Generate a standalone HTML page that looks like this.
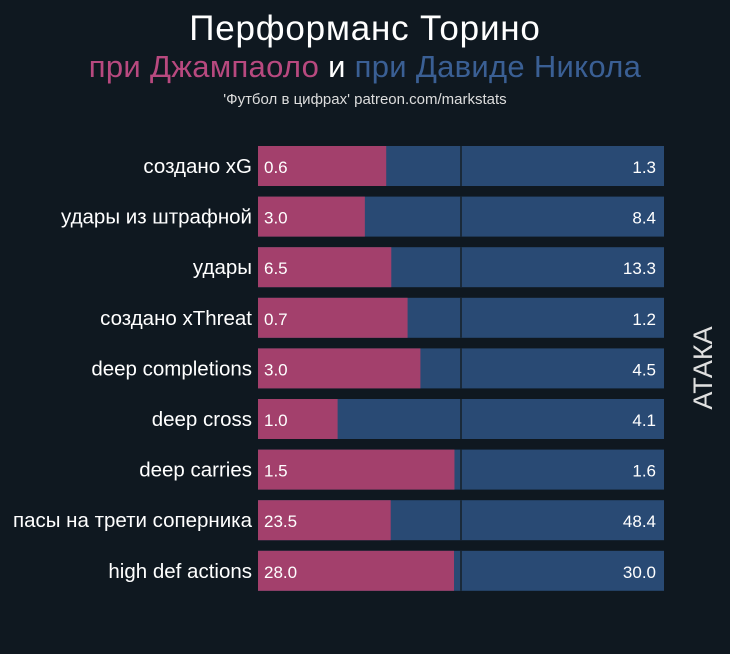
<!DOCTYPE html>
<html><head><meta charset="utf-8"><style>
body{margin:0;background:#0f1820;width:730px;height:649px;overflow:hidden;font-family:"Liberation Sans","DejaVu Sans",sans-serif}
</style></head><body>
<svg width="730" height="649">
<rect width="730" height="649" fill="#0f1820"/>
<text x="365" y="40" text-anchor="middle" font-size="35" letter-spacing="0.8" fill="#fff">Перформанс Торино</text>
<text x="365" y="77" text-anchor="middle" font-size="31" letter-spacing="0.3"><tspan fill="#b8497f">при Джампаоло</tspan><tspan fill="#fff"> и </tspan><tspan fill="#3a5f94">при Давиде Никола</tspan></text>
<text x="365" y="104" text-anchor="middle" font-size="15" fill="#ddd">'Футбол в цифрах' patreon.com/markstats</text>
<text transform="translate(712,368) rotate(-90)" text-anchor="middle" font-size="27" fill="#e0e0e0">АТАКА</text>
<g id="bars"></g>
</svg>
<script>
const categories=["создано xG","удары из штрафной","удары","создано xThreat","deep completions","deep cross","deep carries","пасы на трети соперника","high def actions"];
const giampaolo=[0.6,3.0,6.5,0.7,3.0,1.0,1.5,23.5,28.0];
const nicola=[1.3,8.4,13.3,1.2,4.5,4.1,1.6,48.4,30.0];
const labelsA=["0.6","3.0","6.5","0.7","3.0","1.0","1.5","23.5","28.0"];
const labelsB=["1.3","8.4","13.3","1.2","4.5","4.1","1.6","48.4","30.0"];
const X0=258,W=406,Y0=146,STEP=50.6,H=40;
const g=document.getElementById('bars');const ns="http://www.w3.org/2000/svg";
function x(frac){return X0+frac*W;}
function y(i){return Y0+i*STEP;}
function mk(t,a){const e=document.createElementNS(ns,t);for(const k in a)e.setAttribute(k,a[k]);g.appendChild(e);return e;}
categories.forEach((c,i)=>{
 const f=giampaolo[i]/(giampaolo[i]+nicola[i]);
 const b=mk('rect',{x:X0,y:y(i),width:W,height:H,fill:'#294a74'});
 
 
 const a=mk('rect',{x:X0,y:y(i),width:x(f)-X0,height:H,fill:'#a3406c'});
 
 
 mk('line',{x1:x(0.5),x2:x(0.5),y1:y(i),y2:y(i)+H,stroke:'#1a2a3a','stroke-width':2});
 const l=mk('text',{x:252,y:y(i)+27,'text-anchor':'end','font-size':20.5,fill:'#fff'});l.textContent=c;
 
 
 const va=mk('text',{x:264,y:y(i)+27,'font-size':17,fill:'#fff'});va.textContent=labelsA[i];
 
 
 const vb=mk('text',{x:656,y:y(i)+27,'text-anchor':'end','font-size':17,fill:'#fff'});vb.textContent=labelsB[i];
 
 
});
</script>
</body></html>
